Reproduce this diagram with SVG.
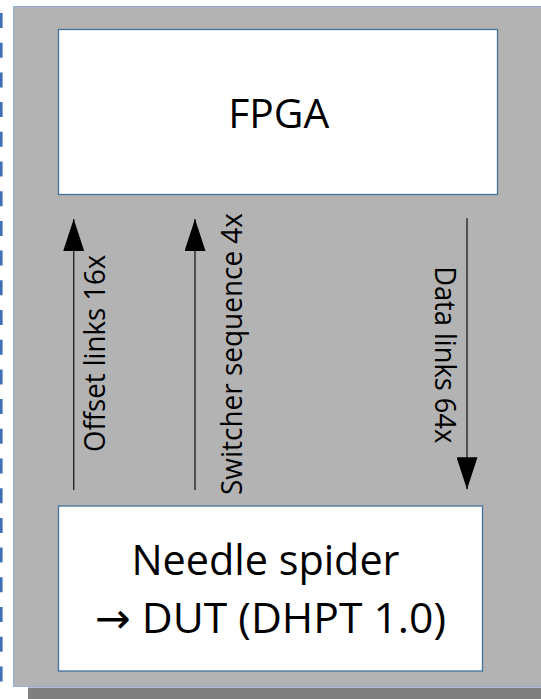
<svg xmlns="http://www.w3.org/2000/svg" width="541" height="699" viewBox="0 0 541 699">
  <defs>
    <!-- filled triangular arrowhead, tip at the path end -->
    <marker id="head" viewBox="0 0 32 21" refX="32" refY="10.5" markerWidth="32" markerHeight="21" markerUnits="userSpaceOnUse" orient="auto">
      <path d="M0,0 L32,10.5 L0,21 Z" fill="#000"/>
    </marker>
    <style>
      .box { fill: #ffffff; stroke: #41719c; stroke-width: 1.3; }
      .lbl { font-family: "Open Sans", "Liberation Sans", sans-serif; fill: #000; }
      .sym { font-family: "DejaVu Sans", sans-serif; }
      .wire { stroke: #262626; stroke-width: 1.4; fill: none; }
    </style>
  </defs>

  <!-- page background -->
  <rect x="0" y="0" width="541" height="699" fill="#ffffff"/>
  <!-- dashed frame edge on the left -->
  <line x1="1.3" y1="13" x2="1.3" y2="686" stroke="#3f6fb5" stroke-width="2.6" stroke-dasharray="15 14.7"/>
  <!-- drop shadow of the panel -->
  <rect x="28" y="687.5" width="520" height="20" fill="#7f7f7f"/>
  <!-- grey panel -->
  <rect x="13.5" y="6.5" width="540" height="680" fill="#b3b3b3" stroke="#8eb0d8" stroke-width="1"/>

  <g id="fpga">
    <rect class="box" x="58.5" y="29.5" width="439" height="165"/>
    <text class="lbl" x="278.8" y="128.3" font-size="40.5" text-anchor="middle" textLength="101" lengthAdjust="spacingAndGlyphs">FPGA</text>
  </g>

  <g id="spider">
    <rect class="box" x="58.5" y="506" width="424" height="165"/>
    <text class="lbl" x="265.5" y="575" font-size="42" text-anchor="middle" textLength="268" lengthAdjust="spacingAndGlyphs">Needle spider</text>
    <text class="lbl" x="270.5" y="633.3" font-size="42" text-anchor="middle" textLength="351" lengthAdjust="spacingAndGlyphs"><tspan class="sym">→</tspan> DUT (DHPT 1.0)</text>
  </g>

  <g id="connectors">
    <line class="wire" x1="73.7" y1="490" x2="73.7" y2="219" marker-end="url(#head)"/>
    <line class="wire" x1="195" y1="490" x2="195" y2="219" marker-end="url(#head)"/>
    <line class="wire" x1="467" y1="218.3" x2="467" y2="489.3" marker-end="url(#head)"/>
  </g>

  <g id="labels">
    <text class="lbl" transform="translate(105,353.4) rotate(-90)" font-size="29" text-anchor="middle" textLength="197" lengthAdjust="spacingAndGlyphs">Offset links 16x</text>
    <text class="lbl" transform="translate(241.7,354) rotate(-90)" font-size="29" text-anchor="middle" textLength="282" lengthAdjust="spacingAndGlyphs">Switcher sequence 4x</text>
    <text class="lbl" transform="translate(435,354.7) rotate(90)" font-size="29" text-anchor="middle" textLength="177" lengthAdjust="spacingAndGlyphs">Data links 64x</text>
  </g>
</svg>
